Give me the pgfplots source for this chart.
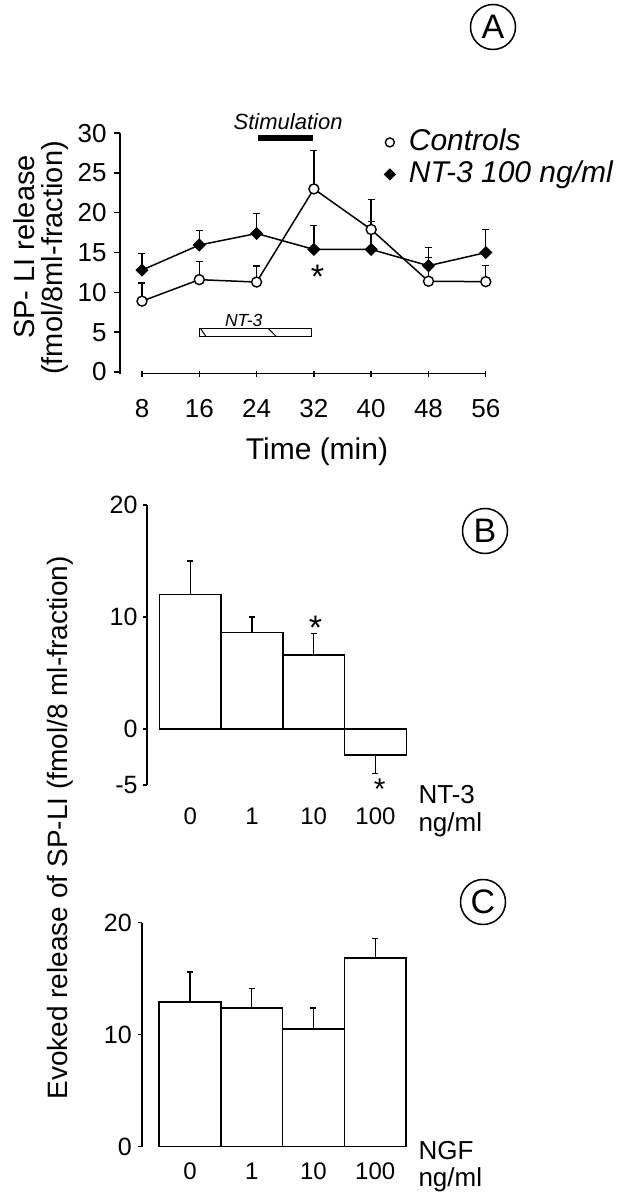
\documentclass[border=0pt]{standalone}
\usepackage{fontspec}
\setmainfont{Liberation Sans}
\setsansfont{Liberation Sans}
\usepackage{pgfplots}
\pgfplotsset{compat=1.18}
\usepackage{pgfplotstable}
\newcommand{\fs}[1]{\fontsize{#1}{#1}\selectfont}

\pgfplotstableread{
t ctl ctlerr nt nterr
8 8.9 2.3 12.8 2.1
16 11.6 2.3 15.95 1.8
24 11.3 2.0 17.4 2.5
32 23.0 4.8 15.4 3.0
40 17.9 3.8 15.4 3.5
48 11.4 3.0 13.35 2.3
56 11.35 2.0 15.0 2.9
}\dataA

\pgfplotstableread{
x y ep em
0 12.0 3.0 0
1 8.6 1.4 0
2 6.6 1.9 0
3 -2.3 0 1.7
}\dataB

\pgfplotstableread{
x y ep
0 12.9 2.7
1 12.4 1.7
2 10.5 1.9
3 16.85 1.75
}\dataC

\begin{document}
\begin{tikzpicture}
\useasboundingbox (0pt,0pt) rectangle (621pt,1199pt);

% ---------------- Panel A ----------------
\begin{axis}[
  at={(120pt,825.4pt)}, anchor=south west,
  x=7.1625pt, y=7.96pt,
  xmin=4.93, xmax=56, ymin=-0.2, ymax=30,
  clip=false,
  axis lines=left,
  axis line style={-, line width=1.6pt},
  x axis line style={draw=none},
  xtick={8,16,24,32,40,48,56},
  xticklabels={8,16,24,32,40,48,56},
  ytick={0,5,10,15,20,25,30},
  yticklabels={0,5,10,15,20,25,30},
  xtick align=center, ytick align=outside,
  major tick length=6pt,
  tick style={line width=1.4pt, black},
  xticklabel style={font={\fs{26}}, anchor=base, inner sep=0pt, yshift=-40.7pt},
  yticklabel style={font={\fs{26}}, anchor=east, inner sep=0pt, xshift=-7.3pt},
  legend cell align=left,
  legend style={at={(axis cs:41.79,30.6)}, anchor=north west, draw=none, fill=none,
    inner sep=0pt, outer sep=0pt, row sep=4pt, font={\fs{30}\itshape},
    nodes={inner sep=0pt, text height=22pt, text depth=6pt}},
]
\addplot[black, line width=1.5pt, mark=*, mark size=5pt,
  mark options={fill=white, line width=1.4pt},
  legend image code/.code={\draw[solid, line width=1.4pt, fill=white] (0pt,0pt) circle (4.5pt); \path[draw=none] (-5pt,0pt) -- (19pt,0pt);},
  error bars/.cd, y dir=plus, y explicit,
  error bar style={line width=1.4pt},
  error mark options={rotate=90, mark size=3.5pt, line width=1.4pt}]
  table[x=t, y=ctl, y error=ctlerr] {\dataA};
\addlegendentry{Controls}
\addplot[black, line width=1.5pt, mark=square*, mark size=3.9pt,
  mark options={rotate=45, fill=black},
  legend image code/.code={\fill[black, rotate=45] (-3.6pt,-3.6pt) rectangle (3.6pt,3.6pt); \path[draw=none] (-5pt,0pt) -- (19pt,0pt);},
  error bars/.cd, y dir=plus, y explicit,
  error bar style={line width=1.4pt},
  error mark options={rotate=90, mark size=3.5pt, line width=1.4pt}]
  table[x=t, y=nt, y error=nterr] {\dataA};
\addlegendentry{NT-3 100 ng/ml}
% x axis line
\draw[line width=1.6pt] (axis cs:8,-0.2) -- (axis cs:56,-0.2);
% stimulation bar
\draw[line width=6pt] (axis cs:24.2,29.4) -- (axis cs:31.9,29.4);
\node[font={\fs{22}\itshape}] at (axis cs:28.4,31.5) {Stimulation};
% NT-3 application box
\draw[line width=1pt] (axis cs:15.96,4.5) rectangle (axis cs:31.7,5.5);
\draw[line width=1pt] (axis cs:16.15,5.5) -- (axis cs:16.9,4.5);
\draw[line width=1pt] (axis cs:25.6,5.5) -- (axis cs:26.7,4.5);
\node[font={\fs{17.5}\itshape}] at (axis cs:22.2,6.5) {NT-3};
% significance
\node[font={\fs{34}}, anchor=base, inner sep=0pt, yshift=-19pt] at (axis cs:32.5,12.9) {*};
\end{axis}

\node[rotate=90, font={\fs{29}}] at (24pt,952pt) {SP- LI release};
\node[rotate=90, font={\fs{29}}] at (55pt,941pt) {(fmol/8ml-fraction)};
\node[font={\fs{30}}] at (317pt,747pt) {Time (min)};
\node[draw, circle, line width=1.5pt, minimum size=45pt, inner sep=0pt, font={\fs{34}}] at (493pt,1172pt) {A};

% ---------------- Panel B ----------------
\begin{axis}[
  at={(147pt,414pt)}, anchor=south west,
  x=61.75pt, y=11.2pt,
  xmin=-0.7, xmax=3.5, ymin=-5, ymax=20,
  clip=false,
  axis lines=left,
  axis line style={-, line width=1.6pt},
  x axis line style={draw=none},
  xtick={0,1,2,3}, xticklabels={0,1,10,100},
  ytick={-5,0,10,20}, yticklabels={-5,0,10,20},
  ytick align=outside, major tick length=4pt,
  x tick style={draw=none},
  tick style={line width=1.4pt, black},
  xticklabel style={font={\fs{24}}, anchor=base, inner sep=0pt, yshift=-37.7pt},
  yticklabel style={font={\fs{25}}, anchor=east, inner sep=0pt, xshift=-5.3pt},
]
\addplot[ybar, bar width=61.75pt, fill=white, draw=black, line width=1.6pt,
  error bars/.cd, y dir=both, y explicit,
  error bar style={line width=1.4pt},
  error mark options={rotate=90, mark size=3pt, line width=1.4pt}]
  table[x=x, y=y, y error plus=ep, y error minus=em] {\dataB};
\node[font={\fs{34}}, anchor=base, inner sep=0pt, yshift=-19pt] at (axis cs:2.03,9.67) {*};
\node[font={\fs{30}}, anchor=base, inner sep=0pt, yshift=-17pt] at (axis cs:3.07,-4.75) {*};
\end{axis}
\node[anchor=west, font={\fs{26}}] at (415pt,404pt) {NT-3};
\node[anchor=west, font={\fs{26}}] at (415pt,374pt) {ng/ml};
\node[draw, circle, line width=1.5pt, minimum size=45pt, inner sep=0pt, font={\fs{34}}] at (485pt,668pt) {B};

% ---------------- Panel C ----------------
\begin{axis}[
  at={(142pt,52.3pt)}, anchor=south west,
  x=61.75pt, y=11.2pt,
  xmin=-0.777, xmax=3.5, ymin=0, ymax=20,
  clip=false,
  axis lines=left,
  axis line style={-, line width=1.6pt},
  x axis line style={draw=none},
  xtick={0,1,2,3}, xticklabels={0,1,10,100},
  ytick={0,10,20}, yticklabels={0,10,20},
  ytick align=outside, major tick length=4pt,
  x tick style={draw=none},
  tick style={line width=1.4pt, black},
  xticklabel style={font={\fs{24}}, anchor=base, inner sep=0pt, yshift=-31pt},
  yticklabel style={font={\fs{25}}, anchor=east, inner sep=0pt, xshift=-6pt},
]
\addplot[ybar, bar width=61.75pt, fill=white, draw=black, line width=1.6pt,
  error bars/.cd, y dir=plus, y explicit,
  error bar style={line width=1.4pt},
  error mark options={rotate=90, mark size=3pt, line width=1.4pt}]
  table[x=x, y=y, y error=ep] {\dataC};
\end{axis}
\node[anchor=west, font={\fs{26}}] at (415pt,48.3pt) {NGF};
\node[anchor=west, font={\fs{26}}] at (415pt,19pt) {ng/ml};
\node[draw, circle, line width=1.5pt, minimum size=45pt, inner sep=0pt, font={\fs{34}}] at (483pt,297pt) {C};

\node[rotate=90, font={\fs{28}}] at (60pt,371pt) {Evoked release of SP-LI (fmol/8 ml-fraction)};
\end{tikzpicture}
\end{document}
